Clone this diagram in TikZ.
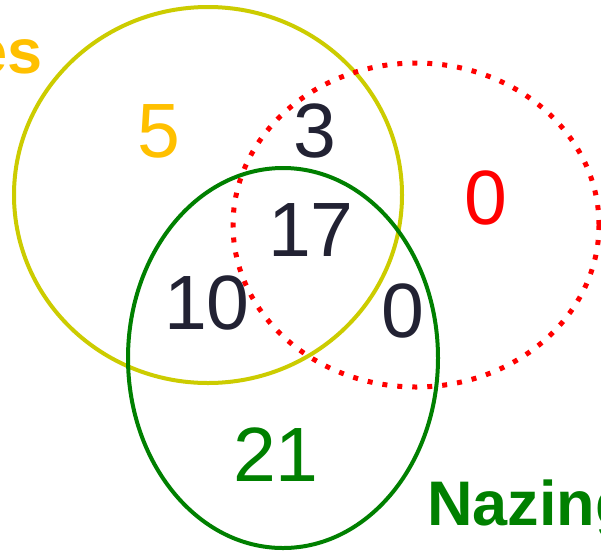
\documentclass[tikz,border=0pt]{standalone}
\usepackage{fontspec}
\setmainfont{Liberation Sans}
\definecolor{vyellow}{RGB}{204,204,0}
\definecolor{vgreen}{RGB}{0,128,0}
\definecolor{vred}{RGB}{255,0,0}
\definecolor{vorange}{RGB}{255,192,0}
\definecolor{vdark}{RGB}{34,34,51}
\tikzset{
  num/.style={anchor=base, inner sep=0pt, font=\fontsize{77}{90}\selectfont},
  lbl/.style={inner sep=0pt, font=\fontsize{63}{75}\selectfont\bfseries},
  setline/.style={line width=4pt},
}
\begin{document}
\begin{tikzpicture}[x=1pt,y=-1pt]
\useasboundingbox (0,0) rectangle (601,552);
\clip (0,0) rectangle (601,552);
\fill[white] (0,0) rectangle (601,552);
\draw[setline, vyellow] (208,195) ellipse [x radius=194, y radius=188];
\draw[line width=5pt, vred, dash pattern=on 5pt off 10pt] (416,225) ellipse [x radius=183, y radius=162];
\draw[setline, vgreen] (283,358) ellipse [x radius=155, y radius=190];
\node[lbl, anchor=base east, text=vorange] (es) at (43,73) {es};
\node[lbl, anchor=base west, text=vgreen] (naz) at (427,525) {Nazing};
\node[num, text=vorange] (n5) at (159,157) {5};
\node[num, text=vdark] (n3) at (315,157) {3};
\node[num, text=vred] (n0r) at (486,224) {0};
\node[num, text=vdark] (n17) at (311,256) {17};
\node[num, text=vdark] (n10) at (207,329) {10};
\node[num, text=vdark] (n0) at (403,337) {0};
\node[num, text=vgreen] (n21) at (276,481) {21};
\end{tikzpicture}
\end{document}
